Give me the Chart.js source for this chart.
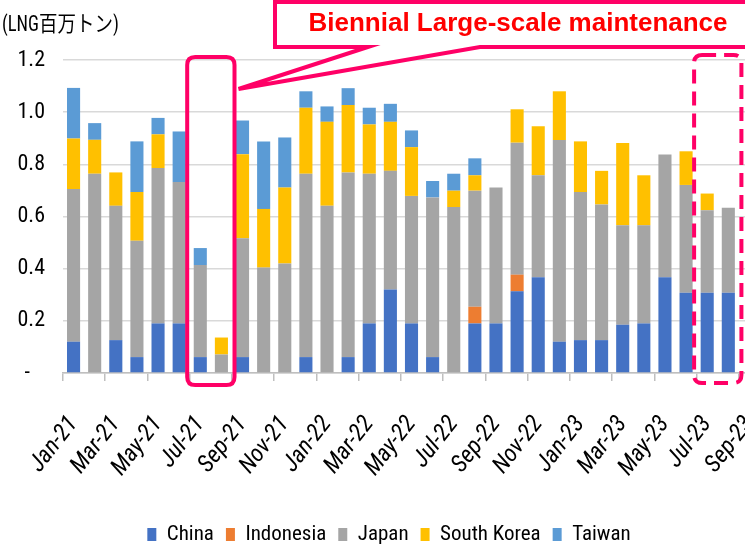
<!DOCTYPE html>
<html>
<head>
<meta charset="utf-8">
<script src="https://cdn.jsdelivr.net/npm/chart.js@4.4.0/dist/chart.umd.min.js"></script>
<style>
  html, body { margin: 0; padding: 0; background: #fff; overflow: hidden; }
  #wrap { position: relative; width: 790px; height: 550px; }
  #unit {
    position: absolute; left: 2px; top: 5px;
    font-family: "Roboto Condensed", "Noto Sans CJK JP", sans-serif;
    font-size: 22px; color: #000; white-space: nowrap;
    transform: scaleX(0.84); transform-origin: left top;
  }
</style>
</head>
<body>
<div id="wrap">
  <canvas id="chart" width="790" height="550"></canvas>
  <div id="unit">(LNG百万トン)</div>
</div>
<script>
// ==========================================================================
// DATA (million tonnes LNG, monthly)
// ==========================================================================
const months = ['Jan-21','Feb-21','Mar-21','Apr-21','May-21','Jun-21','Jul-21','Aug-21','Sep-21','Oct-21','Nov-21','Dec-21',
                'Jan-22','Feb-22','Mar-22','Apr-22','May-22','Jun-22','Jul-22','Aug-22','Sep-22','Oct-22','Nov-22','Dec-22',
                'Jan-23','Feb-23','Mar-23','Apr-23','May-23','Jun-23','Jul-23','Aug-23','Sep-23'];

const china      = [0.12, 0, 0.126, 0.061, 0.19, 0.19, 0.061, 0, 0.061, 0, 0, 0.061,
                    0, 0.061, 0.19, 0.32, 0.19, 0.061, 0, 0.19, 0.19, 0.313, 0.367, 0.12,
                    0.126, 0.126, 0.185, 0.19, 0.367, 0.308, 0.308, 0.308, null];
const indonesia  = [0, 0, 0, 0, 0, 0, 0, 0, 0, 0, 0, 0,
                    0, 0, 0, 0, 0, 0, 0, 0.064, 0, 0.064, 0, 0,
                    0, 0, 0, 0, 0, 0, 0, 0, null];
const japan      = [0.585, 0.764, 0.515, 0.446, 0.596, 0.542, 0.353, 0.071, 0.456, 0.404, 0.42, 0.703,
                    0.641, 0.708, 0.574, 0.455, 0.489, 0.612, 0.636, 0.445, 0.521, 0.506, 0.391, 0.773,
                    0.568, 0.52, 0.381, 0.376, 0.471, 0.413, 0.316, 0.326, null];
const southKorea = [0.194, 0.13, 0.128, 0.187, 0.129, 0, 0, 0.065, 0.322, 0.225, 0.291, 0.253,
                    0.322, 0.258, 0.189, 0.188, 0.187, 0, 0.063, 0.059, 0, 0.128, 0.188, 0.187,
                    0.194, 0.129, 0.316, 0.192, 0, 0.129, 0.064, 0, null];
const taiwan     = [0.194, 0.064, 0, 0.194, 0.063, 0.194, 0.065, 0, 0.129, 0.259, 0.192, 0.063,
                    0.059, 0.065, 0.064, 0.069, 0.064, 0.063, 0.065, 0.065, 0, 0, 0, 0,
                    0, 0, 0, 0, 0, 0, 0, 0, null];

const yTicks = [0, 0.2, 0.4, 0.6, 0.8, 1.0, 1.2];

const seriesNames  = ['China', 'Indonesia', 'Japan', 'South Korea', 'Taiwan'];
const seriesColors = ['#4472C4', '#ED7D31', '#A5A5A5', '#FFC000', '#5B9BD5'];
const seriesData   = [china, indonesia, japan, southKorea, taiwan];

const PINK = '#FF0066';
const FONT = '"Roboto Condensed", "Liberation Sans Narrow", sans-serif';

// ==========================================================================
// ANNOTATIONS: maintenance boxes + callout
// ==========================================================================
function roundRect(ctx, x, y, w, h, r) {
    ctx.beginPath();
    ctx.moveTo(x + r, y);
    ctx.lineTo(x + w - r, y);
    ctx.quadraticCurveTo(x + w, y, x + w, y + r);
    ctx.lineTo(x + w, y + h - r);
    ctx.quadraticCurveTo(x + w, y + h, x + w - r, y + h);
    ctx.lineTo(x + r, y + h);
    ctx.quadraticCurveTo(x, y + h, x, y + h - r);
    ctx.lineTo(x, y + r);
    ctx.quadraticCurveTo(x, y, x + r, y);
    ctx.closePath();
}

const annotationPlugin = {
    id: 'maintenanceNotes',
    afterDraw(chart) {
        const ctx = chart.ctx;
        const xs = chart.scales.x;
        const ys = chart.scales.y;
        const step = xs.getPixelForValue(1) - xs.getPixelForValue(0);
        const top = ys.getPixelForValue(1.2) - 3;
        const bottom = ys.getPixelForValue(0) + 12;

        ctx.save();
        ctx.strokeStyle = PINK;
        ctx.lineWidth = 4;

        // solid box: Jul-21 / Aug-21
        const a1 = xs.getPixelForValue(6) - step * 0.62;
        const a2 = xs.getPixelForValue(7) + step * 0.62;
        roundRect(ctx, a1, top, a2 - a1, bottom - top, 8);
        ctx.stroke();

        // dashed box: Jul-23 / Aug-23
        const b1 = xs.getPixelForValue(30) - step * 0.62;
        const b2 = xs.getPixelForValue(31) + step * 0.62;
        ctx.setLineDash([14, 8]);
        roundRect(ctx, b1, top - 2, b2 - b1, bottom - top, 8);
        ctx.stroke();
        ctx.setLineDash([]);

        // callout box with pointer to the solid box
        const tipX = a2 + 4, tipY = top + 32;
        ctx.beginPath();
        ctx.moveTo(275, 2);
        ctx.lineTo(800, 2);
        ctx.lineTo(800, 47);
        ctx.lineTo(480, 47);
        ctx.lineTo(tipX, tipY);
        ctx.lineTo(368, 47);
        ctx.lineTo(275, 47);
        ctx.closePath();
        ctx.fillStyle = '#fff';
        ctx.fill();
        ctx.stroke();

        ctx.fillStyle = '#FF0000';
        ctx.font = 'bold 26px "Liberation Sans", Arial, sans-serif';
        ctx.textAlign = 'center';
        ctx.textBaseline = 'middle';
        ctx.fillText('Biennial Large-scale maintenance', 518, 24);
        ctx.restore();
    }
};

// ==========================================================================
// CHART
// ==========================================================================
const ctx = document.getElementById('chart').getContext('2d');
new Chart(ctx, {
    type: 'bar',
    data: {
        labels: months,
        datasets: seriesNames.map((name, i) => ({
            label: name,
            data: seriesData[i],
            backgroundColor: seriesColors[i],
            borderWidth: 0,
            barPercentage: 0.62,
            categoryPercentage: 1.0
        }))
    },
    options: {
        responsive: false,
        animation: false,
        layout: { padding: { top: 60, left: 18, right: 30, bottom: -5 } },
        plugins: {
            legend: {
                position: 'bottom',
                labels: {
                    boxWidth: 9,
                    boxHeight: 13,
                    padding: 12,
                    color: '#000',
                    font: { family: FONT, size: 21 }
                }
            },
            tooltip: { enabled: false }
        },
        scales: {
            x: {
                stacked: true,
                grid: {
                    offset: true,
                    drawOnChartArea: false,
                    drawTicks: true,
                    tickLength: 8,
                    color: c => (c.index % 2 === 0 ? '#BFBFBF' : 'rgba(0,0,0,0)'),
                    lineWidth: 1.5
                },
                border: { color: '#BFBFBF', width: 1.5 },
                ticks: {
                    autoSkip: false,
                    maxRotation: 52,
                    minRotation: 52,
                    padding: 30,
                    color: '#000',
                    font: { family: FONT, size: 24, style: 'italic' },
                    callback: function (v, i) { return i % 2 === 0 ? this.getLabelForValue(v) : ''; }
                },
                afterFit(scale) {
                    scale.height = 139;
                    scale.paddingLeft = 0;
                    scale.paddingRight = 0;
                }
            },
            y: {
                stacked: true,
                min: 0,
                max: 1.2,
                afterBuildTicks(scale) { scale.ticks = yTicks.map(v => ({ value: v })); },
                grid: { color: '#D9D9D9', lineWidth: 1.5, drawTicks: false },
                border: { display: false },
                ticks: {
                    padding: 18,
                    color: '#000',
                    font: { family: FONT, size: 22 },
                    callback: v => (v === 0 ? '-   ' : v.toFixed(1))
                },
                afterFit(scale) { scale.width = 45; }
            }
        }
    },
    plugins: [annotationPlugin]
});
</script>
</body>
</html>
